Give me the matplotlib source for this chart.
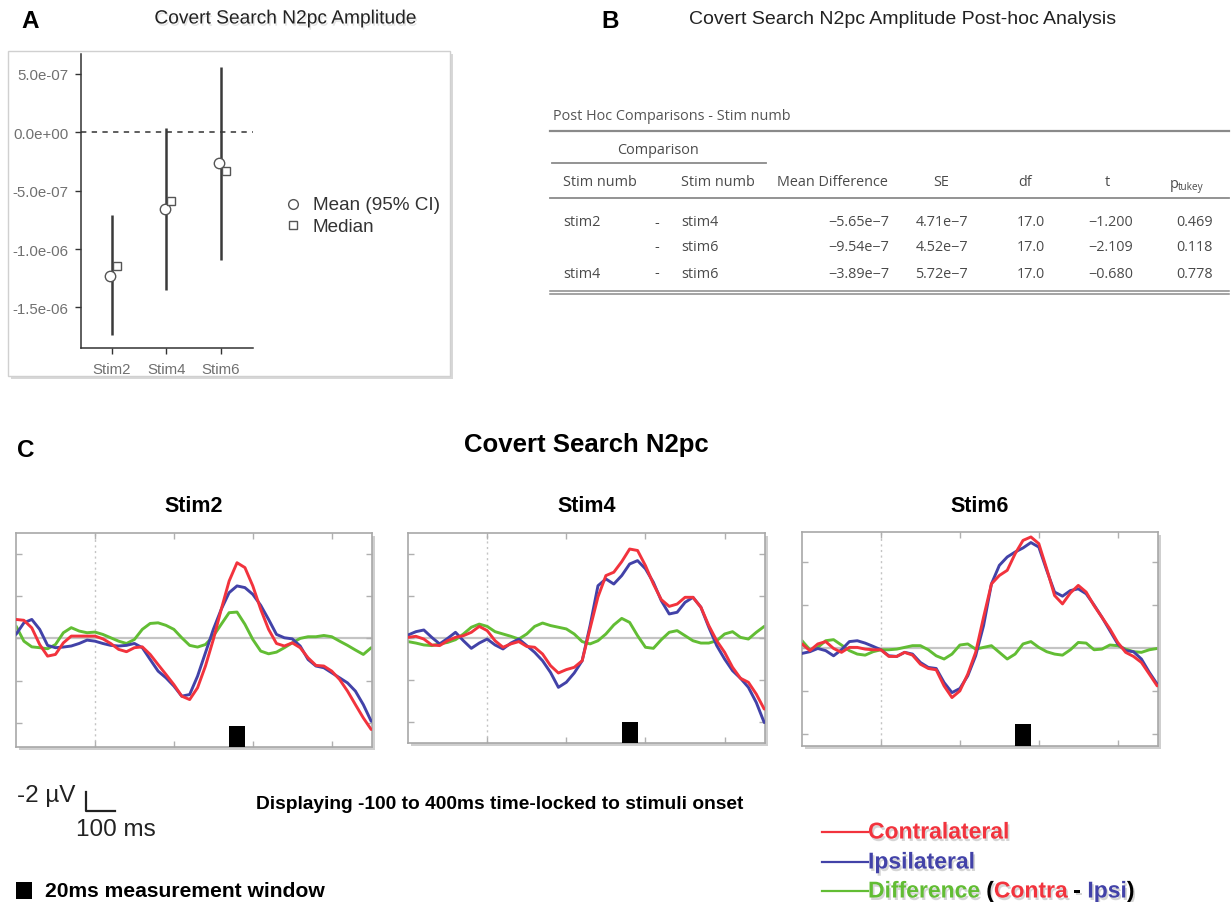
import numpy as np
import matplotlib
matplotlib.use('Agg')
import matplotlib.pyplot as plt
from matplotlib import patheffects as pe
from matplotlib.patches import Rectangle
from matplotlib.lines import Line2D
from matplotlib.text import Annotation

plt.rcParams['font.family'] = ['Liberation Sans', 'DejaVu Sans']

# ------------------------------------------------------------------ data
# Panel A : amplitude summary
stim_labels = ['Stim2', 'Stim4', 'Stim6']
mean_amp = [-1.23e-6, -0.66e-6, -0.265e-6]
ci_low = [-1.735e-6, -1.35e-6, -1.095e-6]
ci_high = [-0.71e-6, 0.04e-6, 0.56e-6]
median_amp = [-1.145e-6, -0.59e-6, -0.33e-6]
amp_ticks = [5e-7, 0.0, -5e-7, -1e-6, -1.5e-6]
amp_tick_labels = ['5.0e-07', '0.0e+00', '-5.0e-07', '-1.0e-06', '-1.5e-06']

# Panel B : post-hoc table
row_from = ['stim2', '', 'stim4']
row_to = ['stim4', 'stim6', 'stim6']
mean_diff = [-5.65e-7, -9.54e-7, -3.89e-7]
se_vals = [4.71e-7, 4.52e-7, 5.72e-7]
df_vals = [17.0, 17.0, 17.0]
t_vals = [-1.200, -2.109, -0.680]
p_tukey = [0.469, 0.118, 0.778]

# Panel C : grand-average ERPs (µV), sampled every 10 ms from -100 to 350 ms
times = list(range(-100, 351, 10))
contra_s2 = [-0.90, -0.86, -0.50, 0.29, 0.84, 0.76, 0.21, -0.11, -0.11, -0.11,
             -0.11, 0.02, 0.24, 0.52, 0.63, 0.44, 0.40, 0.76, 1.24, 1.71,
             2.19, 2.74, 2.90, 2.34, 1.31, 0.05, -1.38, -2.72, -3.59, -3.36,
             -2.49, -1.38, -0.43, 0.24, 0.36, 0.21, 0.44, 0.92, 1.28, 1.31,
             1.55, 1.95, 2.50, 3.14, 3.77, 4.32]
ipsi_s2 = [-0.19, -0.74, -0.90, -0.43, 0.33, 0.44, 0.41, 0.36, 0.24, 0.08,
           0.13, 0.24, 0.33, 0.36, 0.33, 0.24, 0.44, 1.00, 1.55, 1.87,
           2.26, 2.74, 2.66, 1.79, 0.68, -0.43, -1.38, -2.17, -2.49, -2.41,
           -2.09, -1.57, -0.90, -0.19, -0.03, 0.02, 0.36, 1.00, 1.31, 1.39,
           1.63, 1.87, 2.11, 2.50, 3.14, 3.93]
diff_s2 = [-0.59, 0.13, 0.40, 0.44, 0.49, 0.29, -0.27, -0.51, -0.35, -0.27,
           -0.30, -0.19, -0.03, 0.13, 0.24, 0.05, -0.43, -0.71, -0.74, -0.62,
           -0.43, -0.03, 0.33, 0.41, 0.29, -0.11, -0.67, -1.22, -1.25, -0.67,
           0.05, 0.60, 0.73, 0.65, 0.44, 0.21, 0.00, -0.08, -0.08, -0.14,
           -0.08, 0.13, 0.33, 0.55, 0.76, 0.44]

contra_s4 = [-0.03, -0.08, 0.05, 0.33, 0.36, 0.13, -0.03, -0.11, -0.27, -0.55,
             -0.35, 0.13, 0.44, 0.28, 0.17, 0.40, 0.44, 0.76, 1.31, 1.66,
             1.50, 1.39, 1.08, -0.45, -1.95, -2.96, -3.12, -3.62, -4.22, -4.15,
             -3.43, -2.56, -1.82, -1.50, -1.61, -1.93, -1.93, -1.46, -0.59, 0.13,
             0.68, 1.39, 1.91, 2.10, 2.66, 3.37]
ipsi_s4 = [-0.14, -0.30, -0.38, -0.03, 0.28, 0.02, -0.27, 0.13, 0.49, 0.24,
           0.05, 0.33, 0.52, 0.24, 0.05, 0.36, 0.68, 1.08, 1.63, 2.34,
           2.10, 1.66, 1.08, -0.59, -2.48, -2.80, -2.56, -2.96, -3.51, -3.67,
           -3.28, -2.64, -1.77, -1.14, -1.22, -1.69, -1.93, -1.46, -0.51, 0.36,
           1.00, 1.55, 1.91, 2.34, 3.06, 4.01]
diff_s4 = [0.17, 0.24, 0.33, 0.36, 0.28, 0.21, 0.08, -0.19, -0.51, -0.66,
           -0.55, -0.30, -0.19, -0.08, 0.05, -0.19, -0.55, -0.71, -0.59, -0.51,
           -0.43, -0.19, 0.17, 0.28, 0.13, -0.19, -0.62, -0.93, -0.74, -0.11,
           0.44, 0.49, 0.08, -0.27, -0.35, -0.11, 0.13, 0.24, 0.24, 0.13,
           -0.19, -0.30, -0.03, 0.05, -0.27, -0.55]

contra_s6 = [-0.19, 0.12, -0.19, -0.30, 0.02, 0.20, -0.03, -0.03, 0.05, 0.08,
             0.08, 0.39, 0.39, 0.20, 0.33, 0.75, 0.95, 1.01, 1.76, 2.30,
             1.99, 1.21, 0.20, -1.43, -2.98, -3.37, -3.61, -4.38, -5.00, -5.16,
             -4.85, -3.68, -2.44, -2.05, -2.56, -2.91, -2.60, -1.97, -1.43, -0.89,
             -0.26, 0.20, 0.39, 0.67, 1.21, 1.76]
ipsi_s6 = [0.25, 0.17, 0.02, 0.12, 0.36, 0.08, -0.30, -0.34, -0.23, -0.08,
           0.08, 0.36, 0.39, 0.20, 0.28, 0.67, 0.90, 0.95, 1.60, 2.07,
           1.88, 1.29, 0.36, -1.04, -2.98, -3.84, -4.23, -4.46, -4.65, -4.90,
           -4.69, -3.61, -2.60, -2.41, -2.67, -2.75, -2.52, -2.00, -1.43, -0.81,
           -0.19, 0.12, 0.17, 0.51, 1.13, 1.68]
diff_s6 = [-0.34, 0.08, -0.03, -0.34, -0.39, -0.14, 0.12, 0.28, 0.33, 0.17,
           0.08, 0.08, 0.05, -0.03, -0.11, -0.11, 0.08, 0.36, 0.51, 0.28,
           -0.14, -0.19, 0.05, -0.03, -0.11, 0.20, 0.51, 0.28, -0.19, -0.30,
           -0.03, 0.17, 0.28, 0.33, 0.08, -0.26, -0.23, 0.08, 0.05, -0.14,
           -0.11, 0.05, 0.17, 0.20, 0.08, 0.02]

measure_window = [170, 190]   # ms
erp_xticks = [0, 100, 200, 300]
erp_yticks = [-4, -2, 0, 2, 4]

# ------------------------------------------------------------------ layout helpers
W, H = 1231, 903
fig = plt.figure(figsize=(W / 100, H / 100), dpi=100)
fig.patch.set_facecolor('white')


def fx(x):
    return x / W


def fy(y):
    return 1 - y / H


def rect(l, t, r, b):
    return [fx(l), fy(b), (r - l) / W, (b - t) / H]


def fig_line(xs, ys, **kw):
    fig.add_artist(Line2D([fx(v) for v in xs], [fy(v) for v in ys], **kw))


def shadow_box(l, t, r, b, dx=3, dy=3, ec='#d0d0d0', z=-2):
    fig.add_artist(Rectangle((fx(l + dx), fy(b + dy)), (r - l) / W, (b - t) / H,
                             transform=fig.transFigure, fc='#b8b8b8', ec='none',
                             alpha=0.55, zorder=z - 1))
    fig.add_artist(Rectangle((fx(l), fy(b)), (r - l) / W, (b - t) / H,
                             transform=fig.transFigure, fc='white', ec=ec,
                             lw=1, zorder=z))


title_shadow = [pe.withSimplePatchShadow(offset=(1.0, -1.6), shadow_rgbFace='#888888', alpha=0.22)]
txt_shadow = [pe.withSimplePatchShadow(offset=(1.2, -1.8), shadow_rgbFace='#777777', alpha=0.3)]

RED = '#f2333d'
BLUE = '#4242a8'
GREEN = '#62bd34'

# ------------------------------------------------------------------ panel letters & titles
for letter, x, y in [('A', 21, 21), ('B', 601, 21), ('C', 17, 451)]:
    fig.text(fx(x), fy(y), letter, fontsize=17.5, fontweight='bold', ha='left', va='center')

fig.text(fx(285), fy(20), 'Covert Search N2pc Amplitude', fontsize=13.8, color='#222222',
         ha='center', va='center', path_effects=title_shadow)
fig.text(fx(903), fy(20), 'Covert Search N2pc Amplitude Post-hoc Analysis', fontsize=14,
         color='#222222', ha='center', va='center')

# ------------------------------------------------------------------ panel A
shadow_box(8, 52, 450, 377)
axA = fig.add_axes(rect(81, 55, 253, 349))
axA.set_facecolor('none')
xpos = np.arange(1, len(stim_labels) + 1)
axA.set_xlim(0.429, 3.595)
axA.set_ylim(-1.847e-6, 0.670e-6)
axA.axhline(0, color='#333333', lw=1.1, ls=(0, (3.5, 3.5)), zorder=1)
axA.vlines(xpos, ci_low, ci_high, color='#3a3a3a', lw=1.8, zorder=2)
axA.plot(xpos - 0.03, mean_amp, 'o', mfc='white', mec='#555555', ms=7.5, mew=1.0, zorder=3)
axA.plot(xpos + 0.09, median_amp, 's', mfc='white', mec='#555555', ms=6, mew=1.0, zorder=3)
for s in ['top', 'right']:
    axA.spines[s].set_visible(False)
for s in ['left', 'bottom']:
    axA.spines[s].set_color('#333333')
    axA.spines[s].set_linewidth(1.1)
axA.set_yticks(amp_ticks)
axA.set_yticklabels(amp_tick_labels)
axA.set_xticks(xpos)
axA.set_xticklabels(stim_labels)
axA.tick_params(length=4, width=1, color='#333333', labelcolor='#707070', labelsize=10.8)
axA.tick_params(axis='y', pad=5)
axA.tick_params(axis='x', pad=6)

# legend of panel A
fig.add_artist(Line2D([fx(293)], [fy(205)], marker='o', mfc='white', mec='#555555', ms=7, mew=1, ls='none'))
fig.add_artist(Line2D([fx(293)], [fy(226)], marker='s', mfc='white', mec='#555555', ms=5.5, mew=1, ls='none'))
fig.text(fx(313), fy(205), 'Mean (95% CI)', fontsize=13.6, color='#333333', va='center')
fig.text(fx(313), fy(227), 'Median', fontsize=13.6, color='#333333', va='center')

# ------------------------------------------------------------------ panel B (table)
TF = ['Open Sans', 'DejaVu Sans']
TC = '#4a4a4a'
LC = '#8a8a8a'
tfs = 10.4


def sci(v):
    m, e = f"{v:.2e}".split('e')
    return (m + 'e' + str(int(e))).replace('-', '\u2212')


def tx(x, y, s, ha='left', size=tfs, color=TC):
    return fig.text(fx(x), fy(y), s, fontsize=size, family=TF, color=color, ha=ha, va='center')


tx(553, 117, 'Post Hoc Comparisons - Stim numb', color='#555555')
fig_line([550, 1229], [132, 132], color=LC, lw=1.6)
tx(658, 150, 'Comparison', ha='center')
fig_line([552, 766], [164, 164], color=LC, lw=1.3)
tx(563, 183, 'Stim numb')
tx(681, 183, 'Stim numb')
tx(832, 183, 'Mean Difference', ha='center')
tx(941, 183, 'SE', ha='center')
tx(1025, 183, 'df', ha='center')
tx(1107, 183, 't', ha='center')
tx(1170, 185, 'p')
tx(1178, 188, 'tukey', size=7.2)
fig_line([550, 1229], [199, 199], color=LC, lw=1.3)

row_y = [223, 248, 274]
for i, y in enumerate(row_y):
    tx(563, y, row_from[i])
    tx(657, y, '-', ha='center')
    tx(681, y, row_to[i])
    tx(889, y, sci(mean_diff[i]), ha='right')
    tx(968, y, sci(se_vals[i]), ha='right')
    tx(1045, y, f"{df_vals[i]:.1f}", ha='right')
    tx(1133, y, f"{t_vals[i]:.3f}".replace('-', '\u2212'), ha='right')
    tx(1213, y, f"{p_tukey[i]:.3f}", ha='right')
fig_line([550, 1229], [292, 292], color=LC, lw=1.1)
fig_line([550, 1229], [295, 295], color=LC, lw=1.1)

# ------------------------------------------------------------------ panel C
fig.text(fx(586), fy(445), 'Covert Search N2pc', fontsize=18.5, fontweight='bold',
         ha='center', va='center')

panels = [
    dict(title='Stim2', tx=194, box=(16, 534, 372, 748), ylim=(5.15, -5.0),
         contra=contra_s2, ipsi=ipsi_s2, diff=diff_s2),
    dict(title='Stim4', tx=587, box=(408, 534, 765, 744), ylim=(4.98, -4.98),
         contra=contra_s4, ipsi=ipsi_s4, diff=diff_s4),
    dict(title='Stim6', tx=980, box=(802, 533, 1158, 747), ylim=(4.55, -5.39),
         contra=contra_s6, ipsi=ipsi_s6, diff=diff_s6),
]

for p in panels:
    l, t, r, b = p['box']
    fig.add_artist(Rectangle((fx(l + 3), fy(b + 3)), (r - l) / W, (b - t) / H,
                             transform=fig.transFigure, fc='#b0b0b0', ec='none',
                             alpha=0.6, zorder=-3))
    ax = fig.add_axes(rect(l, t, r, b))
    ax.set_xlim(-100, 351)
    ax.set_ylim(*p['ylim'])
    ax.axhline(0, color='#c4c4c4', lw=1.6, zorder=1)
    ax.axvline(0, color='#c4c4c4', lw=1.0, ls=(0, (1.5, 2.5)), zorder=1)
    ax.plot(times, p['diff'], color=GREEN, lw=2.1, zorder=2,
            solid_joinstyle='round', solid_capstyle='round')
    ax.plot(times, p['ipsi'], color=BLUE, lw=2.1, zorder=3,
            solid_joinstyle='round', solid_capstyle='round')
    ax.plot(times, p['contra'], color=RED, lw=2.1, zorder=4,
            solid_joinstyle='round', solid_capstyle='round')
    ax.add_patch(Rectangle((measure_window[0], p['ylim'][0]),
                           measure_window[1] - measure_window[0], -1.0,
                           fc='black', ec='none', zorder=5))
    ax.set_xticks(erp_xticks)
    ax.set_yticks(erp_yticks)
    ax.tick_params(direction='in', length=4, width=1, color='#b0b0b0',
                   top=True, right=True, labelleft=False, labelbottom=False)
    for s in ax.spines.values():
        s.set_color('#a8a8a8')
        s.set_linewidth(1.2)
    fig.text(fx(p['tx']), fy(507), p['title'], fontsize=15.5, fontweight='bold',
             ha='center', va='center')

# scale bar and notes
fig.text(fx(17), fy(796), '-2 \u00b5V', fontsize=17.5, color='#222222', va='center')
fig_line([86, 86, 115], [793, 812, 812], color='#222222', lw=1.6)
fig.text(fx(76), fy(830), '100 ms', fontsize=17.5, color='#222222', va='center')
fig.text(fx(500), fy(805), 'Displaying -100 to 400ms time-locked to stimuli onset',
         fontsize=13.8, fontweight='bold', ha='center', va='center')
fig.add_artist(Rectangle((fx(16), fy(900)), 16 / W, 17 / H, transform=fig.transFigure,
                         fc='black', ec='none'))
fig.text(fx(45), fy(892), '20ms measurement window', fontsize=15.2, fontweight='bold',
         va='center')

# colour legend
leg_items = [(833, RED, [('Contralateral', RED)]),
             (863, BLUE, [('Ipsilateral', BLUE)]),
             (892, GREEN, [('Difference', GREEN), (' (', 'black'), ('Contra', RED),
                           (' - ', 'black'), ('Ipsi', BLUE), (')', 'black')])]
for y, col, parts in leg_items:
    fig_line([822, 868], [y, y], color=col, lw=1.6)
    prev = fig.text(fx(868), fy(y), parts[0][0], fontsize=16.5, fontweight='bold',
                    color=parts[0][1], va='center', path_effects=txt_shadow)
    for s, c in parts[1:]:
        a = Annotation(s, xy=(1, 0), xycoords=prev, xytext=(0, 0), textcoords='offset points',
                       fontsize=16.5, fontweight='bold', color=c, ha='left', va='bottom',
                       path_effects=txt_shadow)
        fig.add_artist(a)
        prev = a

fig.savefig('out.png', dpi=100, facecolor='white')
